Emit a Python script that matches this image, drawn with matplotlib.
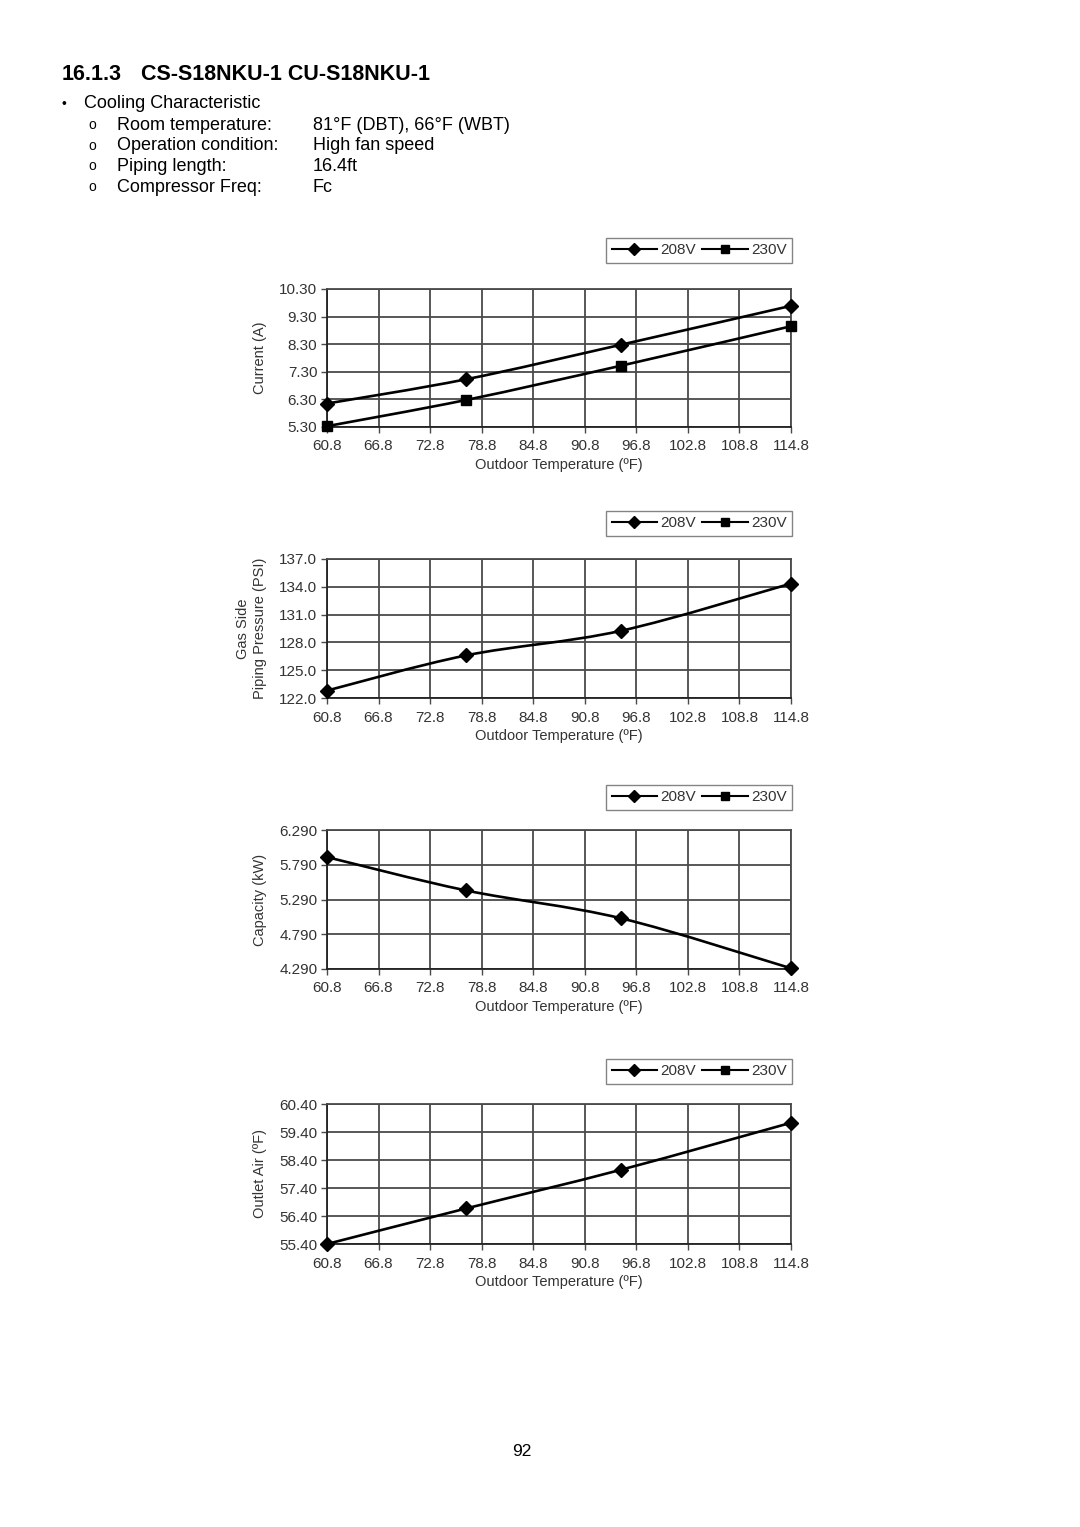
import matplotlib

matplotlib.use("Agg")

import matplotlib.pyplot as plt
from matplotlib.lines import Line2D
from matplotlib.patches import PathPatch
from matplotlib.path import Path
import numpy as np

plt.rcParams["font.family"] = ["Liberation Sans", "DejaVu Sans"]

# Outdoor temperatures (degF) of the measured points
OUTDOOR_T = [60.8, 77.0, 95.0, 114.8]
X_TICKS = [60.8, 66.8, 72.8, 78.8, 84.8, 90.8, 96.8, 102.8, 108.8, 114.8]

CURRENT_208 = [6.15, 7.03, 8.28, 9.69]
CURRENT_230 = [5.33, 6.28, 7.52, 8.95]
CURRENT_TICKS = [5.30, 6.30, 7.30, 8.30, 9.30, 10.30]

PRESSURE_208 = [122.8, 126.6, 129.25, 134.35]
PRESSURE_TICKS = [122.0, 125.0, 128.0, 131.0, 134.0, 137.0]

CAPACITY_208 = [5.90, 5.42, 5.02, 4.30]
CAPACITY_TICKS = [4.290, 4.790, 5.290, 5.790, 6.290]

OUTLET_208 = [55.40, 56.67, 58.05, 59.73]
OUTLET_TICKS = [55.40, 56.40, 57.40, 58.40, 59.40, 60.40]

HEADER_ROWS = [
    ("Room temperature:", "81\u00b0F (DBT), 66\u00b0F (WBT)"),
    ("Operation condition:", "High fan speed"),
    ("Piping length:", "16.4ft"),
    ("Compressor Freq:", "Fc"),
]

W, H = 1080, 1527
GRID = "#4a4a4a"
TXT = "#333333"


def smooth_path(xs, ys):
    """Excel-style smoothed line as a cubic Bezier path through the points."""
    pts = np.column_stack([xs, ys]).astype(float)
    ext = np.vstack([pts[0], pts, pts[-1]])
    verts = [pts[0]]
    codes = [Path.MOVETO]
    for i in range(len(pts) - 1):
        p0, p1, p2, p3 = ext[i], ext[i + 1], ext[i + 2], ext[i + 3]
        verts += [p1 + (p2 - p0) / 6.0, p2 - (p3 - p1) / 6.0, p2]
        codes += [Path.CURVE4] * 3
    return Path(verts, codes)


def draw_chart(fig, top_px, bottom_px, legend_top_px, series, yticks, fmt, ylabel):
    left, right = 327, 791
    ax = fig.add_axes([left / W, 1 - bottom_px / H, (right - left) / W,
                       (bottom_px - top_px) / H])
    for ys, marker, ms in series:
        ax.add_patch(PathPatch(smooth_path(OUTDOOR_T, ys), facecolor="none",
                               edgecolor="black", linewidth=1.9, zorder=3))
        ax.plot(OUTDOOR_T, ys, linestyle="none", marker=marker, markersize=ms,
                color="black", zorder=4, clip_on=False)
    ax.set_xlim(X_TICKS[0], X_TICKS[-1])
    ax.set_ylim(yticks[0], yticks[-1])
    ax.set_xticks(X_TICKS)
    ax.set_xticklabels([f"{v:.1f}" for v in X_TICKS])
    ax.set_yticks(yticks)
    ax.set_yticklabels([fmt.format(v) for v in yticks])
    ax.grid(True, color=GRID, linewidth=1.3)
    ax.set_axisbelow(True)
    ax.tick_params(length=4, width=1.0, color=GRID, labelsize=11,
                   labelcolor=TXT, pad=3)
    ax.tick_params(axis="x", pad=5)
    for spine in ax.spines.values():
        spine.set_color(GRID)
        spine.set_linewidth(1.3)
    ax.spines["left"].set_color("#222222")
    ax.spines["bottom"].set_color("#222222")
    ax.set_xlabel("Outdoor Temperature (\u00baF)", fontsize=10.5, color=TXT,
                  labelpad=3)
    ax.set_ylabel(ylabel, fontsize=10.5, color=TXT, labelpad=9,
                  linespacing=1.2)

    handles = [
        Line2D([], [], color="black", linewidth=1.5, marker="D", markersize=6),
        Line2D([], [], color="black", linewidth=1.5, marker="s", markersize=6),
    ]
    leg = ax.legend(handles, ["208V", "230V"], loc="upper right", ncol=2,
                    bbox_to_anchor=(792 / W, 1 - legend_top_px / H),
                    bbox_transform=fig.transFigure, fontsize=11,
                    frameon=True, fancybox=False, edgecolor="#666666",
                    handlelength=3.0, handletextpad=0.2, columnspacing=0.4,
                    borderpad=0.35, borderaxespad=0)
    leg.get_frame().set_linewidth(1.0)
    for t in leg.get_texts():
        t.set_color(TXT)
    return ax


fig = plt.figure(figsize=(W / 100, H / 100), dpi=100)
fig.patch.set_facecolor("white")

fig.text(62 / W, 1 - 75 / H, "16.1.3", fontsize=15.5, fontweight="bold",
         va="center", ha="left")
fig.text(141 / W, 1 - 75 / H, "CS-S18NKU-1 CU-S18NKU-1", fontsize=15.5,
         fontweight="bold", va="center", ha="left")
fig.text(62 / W, 1 - 104 / H, "\u2022", fontsize=10, va="center", ha="left")
fig.text(84 / W, 1 - 104 / H, "Cooling Characteristic", fontsize=13,
         va="center", ha="left")
for i, (label, value) in enumerate(HEADER_ROWS):
    y = 1 - (125 + i * 20.7) / H
    fig.text(88 / W, y, "o", fontsize=10, va="center", ha="left")
    fig.text(117 / W, y, label, fontsize=13, va="center", ha="left")
    fig.text(313 / W, y, value, fontsize=13, va="center", ha="left")

draw_chart(fig, 289, 427, 238,
           [(CURRENT_208, "D", 7), (CURRENT_230, "s", 6.5)],
           CURRENT_TICKS, "{:.2f}", "Current (A)")
draw_chart(fig, 559, 698, 511,
           [(PRESSURE_208, "D", 7)],
           PRESSURE_TICKS, "{:.1f}", "Gas Side\nPiping Pressure (PSI)")
draw_chart(fig, 830, 969, 785,
           [(CAPACITY_208, "D", 7)],
           CAPACITY_TICKS, "{:.3f}", "Capacity (kW)")
draw_chart(fig, 1104, 1244, 1059,
           [(OUTLET_208, "D", 7)],
           OUTLET_TICKS, "{:.2f}", "Outlet Air (\u00baF)")

fig.text(522 / W, 1 - 1451 / H, "92", fontsize=12.5, va="center", ha="center")

fig.savefig("out.png", dpi=100)
